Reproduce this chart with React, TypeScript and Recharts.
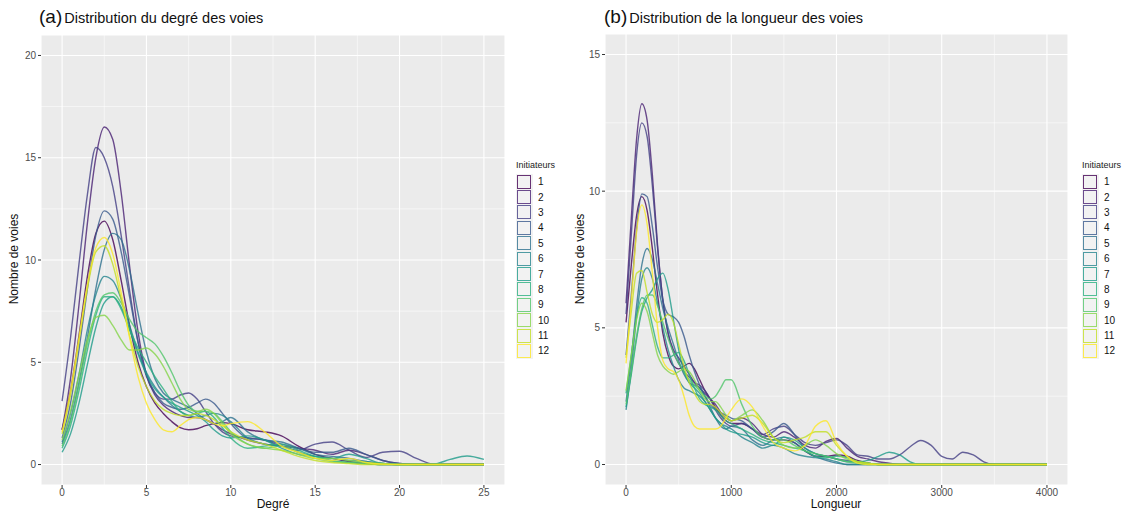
import React from 'react';
import { LineChart, Line, XAxis, YAxis, CartesianGrid, ReferenceLine } from 'recharts';

// shared legend / series names
const initiateurs = ['1', '2', '3', '4', '5', '6', '7', '8', '9', '10', '11', '12'];
const viridis = ['#440154', '#482173', '#433E85', '#38598C', '#2D708E', '#25858E', '#1E9B8A', '#2BB07F', '#51C56A', '#85D54A', '#C2DF23', '#FDE725'];

// (a) degree
const degreX = [0, 0.5, 1, 1.5, 2, 2.5, 3, 3.5, 4, 4.5, 5, 5.5, 6, 6.5, 7, 7.5, 8, 8.5, 9, 9.5, 10, 11, 12, 13, 14, 15, 16, 17, 18, 19, 20, 21, 22, 23, 24, 25];
const deg1 = [1.7, 3.6, 6.3, 9.2, 11.3, 11.9, 11.0, 9.0, 6.8, 5.0, 3.8, 3.0, 2.5, 2.1, 1.8, 1.7, 1.75, 1.9, 2.0, 2.05, 2.0, 1.7, 1.6, 1.4, 0.9, 0.5, 0.3, 0.15, 0.05, 0, 0, 0, 0, 0, 0, 0];
const deg2 = [1.7, 4.2, 7.8, 11.8, 15.0, 16.5, 15.9, 13.3, 9.7, 6.5, 4.4, 3.4, 2.9, 2.6, 2.4, 2.3, 2.3, 2.2, 2.0, 1.7, 1.5, 1.2, 1.0, 0.9, 0.8, 0.7, 0.5, 0.7, 0.5, 0.2, 0.05, 0, 0, 0, 0, 0];
const deg3 = [3.1, 6.2, 9.8, 13.2, 15.5, 15.0, 13.6, 11.2, 8.5, 6.0, 4.3, 3.5, 3.2, 3.2, 3.4, 3.5, 3.2, 2.6, 2.0, 1.6, 1.4, 1.3, 1.2, 0.9, 0.7, 1.0, 1.1, 0.7, 0.35, 0.6, 0.65, 0.3, 0.02, 0, 0, 0];
const deg4 = [1.3, 3.0, 5.6, 8.6, 11.2, 12.4, 12.0, 10.4, 8.2, 6.0, 4.4, 3.5, 3.0, 2.8, 2.7, 2.8, 3.0, 3.2, 3.0, 2.5, 2.0, 1.3, 1.2, 1.0, 0.8, 0.6, 0.6, 0.8, 0.5, 0.2, 0.05, 0, 0, 0, 0, 0];
const deg5 = [1.0, 2.2, 4.0, 6.2, 8.6, 10.5, 11.3, 11.0, 9.5, 7.4, 5.5, 4.2, 3.5, 3.2, 3.0, 2.8, 2.5, 2.2, 2.0, 2.1, 2.3, 1.6, 1.2, 1.1, 0.8, 0.5, 0.4, 0.3, 0.15, 0.05, 0, 0, 0, 0, 0, 0];
const deg6 = [1.1, 2.5, 4.4, 6.6, 8.3, 9.2, 9.0, 8.1, 6.8, 5.5, 4.5, 3.8, 3.3, 2.9, 2.6, 2.4, 2.3, 2.4, 2.5, 2.4, 2.1, 1.3, 1.0, 0.9, 0.6, 0.4, 0.3, 0.2, 0.15, 0.05, 0, 0, 0, 0, 0, 0];
const deg7 = [0.6, 1.5, 3.0, 4.9, 6.7, 7.9, 8.2, 7.7, 6.6, 5.4, 4.4, 3.7, 3.3, 3.0, 2.8, 2.6, 2.4, 2.1, 1.7, 1.4, 1.3, 1.4, 1.2, 0.8, 0.5, 0.4, 0.3, 0.5, 0.3, 0.05, 0, 0, 0.02, 0.25, 0.42, 0.25];
const deg8 = [0.8, 1.9, 3.6, 5.6, 7.3, 8.2, 8.2, 7.6, 6.6, 5.7, 5.0, 4.3, 3.7, 3.1, 2.6, 2.4, 2.5, 2.6, 2.3, 1.8, 1.3, 0.8, 0.9, 1.0, 0.7, 0.4, 0.2, 0.1, 0.05, 0, 0, 0, 0, 0, 0, 0];
const deg9 = [0.9, 2.1, 3.9, 5.9, 7.5, 8.3, 8.4, 7.9, 7.1, 6.5, 6.2, 5.9, 5.3, 4.5, 3.6, 2.9, 2.6, 2.6, 2.5, 2.1, 1.6, 1.0, 0.8, 0.9, 0.6, 0.3, 0.15, 0.1, 0.05, 0, 0, 0, 0, 0, 0, 0];
const deg10 = [1.2, 2.6, 4.4, 6.1, 7.2, 7.3, 6.8, 6.1, 5.6, 5.6, 5.7, 5.4, 4.8, 4.0, 3.2, 2.7, 2.6, 2.7, 2.5, 2.0, 1.5, 1.0, 0.8, 0.7, 0.5, 0.3, 0.3, 0.2, 0.1, 0.05, 0, 0, 0, 0, 0, 0];
const deg11 = [1.5, 3.4, 6.0, 8.6, 10.4, 10.7, 9.8, 8.1, 6.3, 4.8, 3.8, 3.1, 2.7, 2.5, 2.4, 2.4, 2.5, 2.4, 2.2, 1.9, 1.6, 1.2, 1.0, 0.7, 0.4, 0.2, 0.1, 0.05, 0, 0, 0, 0, 0, 0, 0, 0];
const deg12 = [1.6, 3.6, 6.2, 8.8, 10.6, 11.1, 10.3, 8.4, 6.2, 4.3, 3.0, 2.2, 1.7, 1.6, 1.9, 2.2, 2.3, 2.2, 2.0, 1.9, 2.0, 2.1, 1.6, 0.9, 0.6, 0.3, 0.2, 0.3, 0.1, 0.02, 0, 0, 0, 0, 0, 0];
const degreTicksX = [0, 5, 10, 15, 20, 25];
const degreTicksY = [0, 5, 10, 15, 20];

// (b) length
const longX = [0, 50, 100, 150, 200, 250, 300, 350, 400, 450, 500, 550, 600, 650, 700, 750, 800, 850, 900, 950, 1000, 1100, 1200, 1300, 1400, 1500, 1600, 1700, 1800, 1900, 2000, 2100, 2200, 2300, 2400, 2500, 2600, 2700, 2800, 2900, 3000, 3100, 3200, 3300, 3400, 3500, 3600, 3800, 4000];
const len1 = [5.2, 7.3, 9.1, 9.8, 9.3, 7.9, 6.2, 4.8, 4.0, 3.6, 3.5, 3.6, 3.7, 3.5, 3.1, 2.7, 2.4, 2.1, 1.8, 1.6, 1.5, 1.5, 1.3, 1.0, 0.9, 0.9, 0.8, 0.5, 0.3, 0.3, 0.35, 0.3, 0.15, 0.05, 0, 0, 0, 0, 0, 0, 0, 0, 0, 0, 0, 0, 0, 0, 0];
const len2 = [5.9, 9.0, 11.9, 13.2, 12.6, 10.6, 8.0, 6.0, 4.8, 4.2, 3.9, 3.6, 3.3, 3.0, 2.8, 2.6, 2.4, 2.2, 1.9, 1.7, 1.6, 1.7, 1.5, 1.1, 1.0, 1.2, 1.0, 0.7, 0.6, 0.85, 0.95, 0.6, 0.3, 0.2, 0.1, 0.05, 0, 0, 0, 0, 0, 0, 0, 0, 0, 0, 0, 0, 0];
const len3 = [5.5, 8.4, 11.3, 12.5, 12.0, 10.2, 7.9, 6.0, 4.8, 4.1, 3.7, 3.4, 3.2, 3.0, 2.9, 2.7, 2.4, 2.0, 1.7, 1.5, 1.4, 1.5, 1.3, 1.1, 1.3, 1.4, 1.1, 0.8, 0.7, 0.8, 0.9, 0.7, 0.35, 0.3, 0.2, 0.2, 0.35, 0.65, 0.88, 0.7, 0.3, 0.2, 0.45, 0.35, 0.1, 0, 0, 0, 0];
const len4 = [4.0, 6.2, 8.6, 9.9, 9.8, 8.7, 7.2, 6.0, 5.5, 5.4, 5.2, 4.7, 4.0, 3.4, 2.9, 2.5, 2.2, 2.0, 1.9, 1.8, 1.7, 1.6, 1.3, 1.0, 1.2, 1.5, 1.1, 0.6, 0.4, 0.3, 0.2, 0.15, 0.1, 0.05, 0, 0, 0, 0, 0, 0, 0, 0, 0, 0, 0, 0, 0, 0, 0];
const len5 = [2.3, 3.9, 5.8, 7.3, 7.9, 7.5, 6.6, 5.7, 5.0, 4.4, 3.8, 3.3, 3.0, 2.9, 2.8, 2.5, 2.1, 1.7, 1.4, 1.3, 1.4, 1.3, 0.9, 0.7, 0.9, 1.0, 0.8, 0.5, 0.3, 0.15, 0.05, 0, 0, 0, 0, 0, 0, 0, 0, 0, 0, 0, 0, 0, 0, 0, 0, 0, 0];
const len6 = [2.0, 3.5, 5.4, 6.8, 7.2, 6.8, 5.9, 5.0, 4.2, 3.6, 3.1, 2.8, 2.7, 2.6, 2.5, 2.3, 2.0, 1.7, 1.5, 1.4, 1.3, 1.0, 0.8, 0.6, 0.7, 0.6, 0.4, 0.3, 0.25, 0.2, 0.1, 0, 0, 0, 0, 0, 0, 0, 0, 0, 0, 0, 0, 0, 0, 0, 0, 0, 0];
const len7 = [2.1, 3.3, 4.6, 5.6, 6.1, 6.4, 6.8, 7.0, 6.4, 5.3, 4.2, 3.4, 3.0, 2.8, 2.6, 2.3, 2.0, 1.7, 1.5, 1.3, 1.2, 1.1, 1.0, 0.8, 0.7, 1.0, 0.9, 0.6, 0.4, 0.3, 0.2, 0.1, 0.1, 0.15, 0.3, 0.45, 0.35, 0.1, 0, 0, 0, 0, 0, 0, 0, 0, 0, 0, 0];
const len8 = [2.6, 4.0, 5.4, 6.1, 5.9, 5.1, 4.3, 3.9, 3.9, 4.0, 4.1, 3.8, 3.3, 2.8, 2.4, 2.2, 2.1, 2.0, 1.8, 1.6, 1.5, 1.3, 1.1, 0.9, 0.8, 0.7, 0.6, 0.5, 0.3, 0.25, 0.3, 0.25, 0.1, 0.05, 0, 0, 0, 0, 0, 0, 0, 0, 0, 0, 0, 0, 0, 0, 0];
const len9 = [2.2, 3.4, 4.7, 5.7, 6.2, 6.2, 5.8, 5.2, 4.6, 4.1, 3.7, 3.4, 3.1, 2.9, 2.7, 2.5, 2.4, 2.5, 2.8, 3.1, 3.1, 2.2, 1.4, 1.0, 0.9, 0.9, 0.7, 0.5, 0.4, 0.3, 0.2, 0.1, 0.05, 0, 0, 0, 0, 0, 0, 0, 0, 0, 0, 0, 0, 0, 0, 0, 0];
const len10 = [2.7, 4.0, 5.3, 5.9, 5.6, 4.8, 4.0, 3.6, 3.4, 3.3, 3.4, 3.5, 3.4, 3.1, 2.7, 2.4, 2.3, 2.3, 2.1, 1.8, 1.6, 1.8, 2.0, 1.6, 1.0, 0.7, 0.6, 0.7, 0.9, 0.7, 0.4, 0.2, 0.1, 0.05, 0, 0, 0, 0, 0, 0, 0, 0, 0, 0, 0, 0, 0, 0, 0];
const len11 = [3.9, 5.6, 7.0, 7.1, 6.3, 5.5, 5.2, 5.3, 5.5, 5.2, 4.4, 3.6, 3.0, 2.6, 2.3, 2.2, 2.2, 2.1, 1.9, 1.7, 1.6, 1.7, 1.8, 1.5, 1.0, 0.8, 0.9, 1.0, 1.2, 1.2, 0.7, 0.3, 0.1, 0.05, 0, 0, 0, 0, 0, 0, 0, 0, 0, 0, 0, 0, 0, 0, 0];
const len12 = [3.7, 6.0, 8.5, 9.5, 8.8, 7.0, 5.0, 3.8, 3.5, 3.4, 3.1, 2.5, 1.8, 1.4, 1.3, 1.3, 1.3, 1.3, 1.4, 1.7, 2.0, 2.4, 2.1, 1.4, 0.8, 0.6, 0.5, 0.7, 1.4, 1.6, 0.8, 0.3, 0.05, 0, 0, 0, 0, 0, 0, 0, 0, 0, 0, 0, 0, 0, 0, 0, 0];
const longTicksX = [0, 1000, 2000, 3000, 4000];
const longTicksY = [0, 5, 10, 15];

const degreSeries = [deg1, deg2, deg3, deg4, deg5, deg6, deg7, deg8, deg9, deg10, deg11, deg12];
const longSeries = [len1, len2, len3, len4, len5, len6, len7, len8, len9, len10, len11, len12];

const toRows = (xs: number[], series: number[][]) =>
  xs.map((x, i) => {
    const row: Record<string, number> = { x };
    series.forEach((s, k) => { row['s' + (k + 1)] = s[i]; });
    return row;
  });

const degreData = toRows(degreX, degreSeries);
const longData = toRows(longX, longSeries);

const FONT = '"Liberation Sans", Arial, Helvetica, sans-serif';
const tickStyle = { fill: '#4D4D4D', fontSize: 10 };

const Legend = ({ left }: { left: number }) => (
  <div style={{ position: 'absolute', left, top: 160, fontFamily: FONT }}>
    <div style={{ fontSize: 9, color: '#222', marginBottom: 4 }}>Initiateurs</div>
    {initiateurs.map((name, i) => (
      <div key={name} style={{ display: 'flex', alignItems: 'center', height: 15.4 }}>
        <div style={{ width: 17, height: 15.4, background: '#F2F2F2', position: 'relative' }}>
          <div style={{ position: 'absolute', left: 1, top: 0.7, width: 14, height: 14, boxSizing: 'border-box', border: `1.5px solid ${viridis[i]}`, opacity: 0.8 }} />
        </div>
        <span style={{ fontSize: 10, color: '#111', marginLeft: 5 }}>{name}</span>
      </div>
    ))}
  </div>
);

const Title = ({ left, tag, text }: { left: number; tag: string; text: string }) => (
  <div style={{ position: 'absolute', left, top: 6, fontFamily: FONT, color: '#111', whiteSpace: 'nowrap' }}>
    <span style={{ fontSize: 19 }}>{tag}</span>
    <span style={{ fontSize: 14.5, marginLeft: 2 }}>{text}</span>
  </div>
);

const AxisTitleY = ({ cx }: { cx: number }) => (
  <div style={{ position: 'absolute', left: cx - 60, top: 252, width: 120, textAlign: 'center', transform: 'rotate(-90deg)', fontFamily: FONT, fontSize: 12, color: '#111' }}>
    Nombre de voies
  </div>
);

const AxisTitleX = ({ cx, text }: { cx: number; text: string }) => (
  <div style={{ position: 'absolute', left: cx - 60, top: 497, width: 120, textAlign: 'center', fontFamily: FONT, fontSize: 12, color: '#111' }}>
    {text}
  </div>
);

const minorDegX = [2.5, 7.5, 12.5, 17.5, 22.5];
const minorDegY = [2.5, 7.5, 12.5, 17.5];
const minorLongX = [500, 1500, 2500, 3500];
const minorLongY = [2.5, 7.5, 12.5];

export default function App() {
  return (
    <div style={{ position: 'absolute', left: 0, top: 0, width: 1131, height: 516, background: '#fff', fontFamily: FONT, overflow: 'hidden' }}>
      <Title left={39} tag="(a)" text="Distribution du degré des voies" />
      <Title left={604} tag="(b)" text="Distribution de la longueur des voies" />

      <div style={{ position: 'absolute', left: 0, top: 0 }}>
        <LineChart width={560} height={516} data={degreData} margin={{ top: 35, right: 55, left: 0, bottom: 0 }}>
          <CartesianGrid fill="#EBEBEB" stroke="#FFFFFF" strokeWidth={1.1} />
          {minorDegX.map((v) => <ReferenceLine key={'mx' + v} x={v} stroke="#FFFFFF" strokeWidth={0.55} />)}
          {minorDegY.map((v) => <ReferenceLine key={'my' + v} y={v} stroke="#FFFFFF" strokeWidth={0.55} />)}
          <XAxis dataKey="x" type="number" domain={[-1.25, 26.25]} ticks={degreTicksX} allowDataOverflow height={31}
            axisLine={false} tickLine={{ stroke: '#333' }} tickSize={3} tickMargin={1} tick={tickStyle} interval={0} />
          <YAxis type="number" domain={[-1, 21]} ticks={degreTicksY} allowDataOverflow width={41}
            axisLine={false} tickLine={{ stroke: '#333' }} tickSize={3} tickMargin={2} tick={tickStyle} interval={0} />
          {initiateurs.map((name, i) => (
            <Line key={name} dataKey={'s' + (i + 1)} name={name} type="monotone" stroke={viridis[i]}
              strokeOpacity={0.8} strokeWidth={1.4} dot={false} activeDot={false} isAnimationActive={false} />
          ))}
        </LineChart>
      </div>

      <div style={{ position: 'absolute', left: 560, top: 0 }}>
        <LineChart width={571} height={516} data={longData} margin={{ top: 34, right: 63, left: 0, bottom: 0 }}>
          <CartesianGrid fill="#EBEBEB" stroke="#FFFFFF" strokeWidth={1.1} />
          {minorLongX.map((v) => <ReferenceLine key={'mx' + v} x={v} stroke="#FFFFFF" strokeWidth={0.55} />)}
          {minorLongY.map((v) => <ReferenceLine key={'my' + v} y={v} stroke="#FFFFFF" strokeWidth={0.55} />)}
          <XAxis dataKey="x" type="number" domain={[-200, 4200]} ticks={longTicksX} allowDataOverflow height={31}
            axisLine={false} tickLine={{ stroke: '#333' }} tickSize={3} tickMargin={1} tick={tickStyle} interval={0} />
          <YAxis type="number" domain={[-0.75, 15.75]} ticks={longTicksY} allowDataOverflow width={45}
            axisLine={false} tickLine={{ stroke: '#333' }} tickSize={3} tickMargin={2} tick={tickStyle} interval={0} />
          {initiateurs.map((name, i) => (
            <Line key={name} dataKey={'s' + (i + 1)} name={name} type="monotone" stroke={viridis[i]}
              strokeOpacity={0.8} strokeWidth={1.4} dot={false} activeDot={false} isAnimationActive={false} />
          ))}
        </LineChart>
      </div>

      <AxisTitleY cx={14} />
      <AxisTitleY cx={580} />
      <AxisTitleX cx={273} text="Degré" />
      <AxisTitleX cx={836} text="Longueur" />

      <Legend left={516} />
      <Legend left={1082} />
    </div>
  );
}
